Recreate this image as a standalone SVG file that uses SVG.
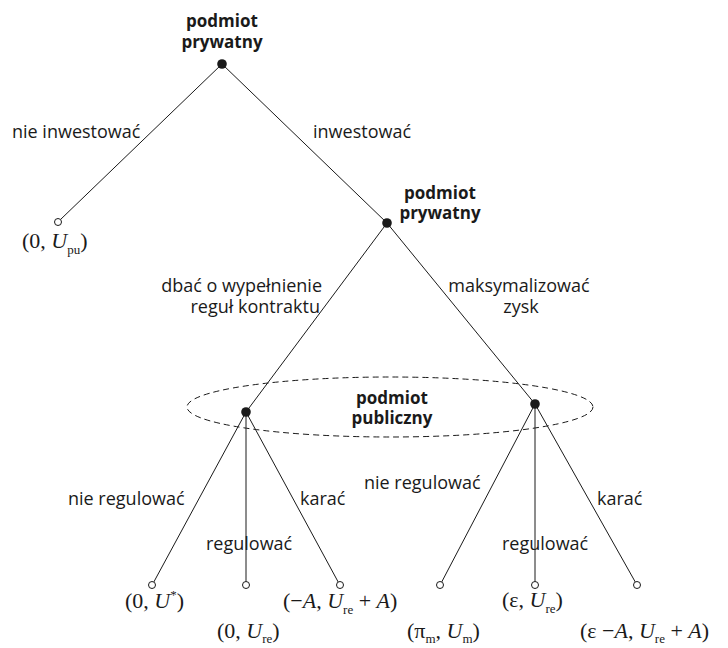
<svg xmlns="http://www.w3.org/2000/svg" width="728" height="648" viewBox="0 0 728 648">
  <style>
    .edge { stroke: #1a1a1a; stroke-width: 1; fill: none; }
    .info { stroke: #1a1a1a; stroke-width: 1; fill: none; stroke-dasharray: 6 4; }
    .dec { fill: #1a1a1a; }
    .leaf { fill: #fff; stroke: #1a1a1a; stroke-width: 1; }
    .lbl { font-family: "Open Sans", "DejaVu Sans", sans-serif; font-size: 18px; fill: #1a1a1a; }
    .who { font-family: "Open Sans", "DejaVu Sans", sans-serif; font-size: 17px; font-weight: bold; fill: #1a1a1a; text-anchor: middle; }
    .pay { font-family: "Liberation Serif", "Times New Roman", serif; font-size: 22px; fill: #1a1a1a; }
    .it { font-style: italic; }
    .sub { font-size: 13px; }
  </style>

  <!-- branches of the game tree -->
  <g id="connectors">
    <line class="edge" x1="222" y1="64" x2="60.5" y2="219.5"/>
    <line class="edge" x1="222" y1="64" x2="387" y2="223"/>
    <line class="edge" x1="387" y1="223" x2="246" y2="412"/>
    <line class="edge" x1="387" y1="223" x2="535" y2="404"/>
    <line class="edge" x1="246" y1="412" x2="153.8" y2="582"/>
    <line class="edge" x1="246" y1="412" x2="246" y2="581.5"/>
    <line class="edge" x1="246" y1="412" x2="338.2" y2="582"/>
    <line class="edge" x1="535" y1="404" x2="441.7" y2="582"/>
    <line class="edge" x1="535" y1="404" x2="535" y2="581.5"/>
    <line class="edge" x1="535" y1="404" x2="635.3" y2="582"/>
  </g>

  <!-- information set of the public player -->
  <g id="info-set">
    <ellipse class="info" cx="390" cy="407" rx="203" ry="30"/>
    <text class="who" x="392" y="404">podmiot</text>
    <text class="who" x="392" y="424">publiczny</text>
  </g>

  <g id="root">
    <circle class="dec" cx="222" cy="64" r="4.8"/>
    <text class="who" x="222" y="27">podmiot</text>
    <text class="who" x="222" y="48">prywatny</text>
  </g>

  <g id="private-2">
    <circle class="dec" cx="387" cy="223" r="4.8"/>
    <text class="who" x="440" y="199">podmiot</text>
    <text class="who" x="440" y="219">prywatny</text>
  </g>

  <g id="public-left">
    <circle class="dec" cx="246" cy="412" r="4.8"/>
  </g>

  <g id="public-right">
    <circle class="dec" cx="535" cy="404" r="4.8"/>
  </g>

  <!-- move labels -->
  <g id="moves">
    <text class="lbl" x="12" y="138">nie inwestować</text>
    <text class="lbl" x="313" y="138">inwestować</text>
    <text class="lbl" x="322" y="292" text-anchor="end">dbać o wypełnienie</text>
    <text class="lbl" x="320" y="313" text-anchor="end">reguł kontraktu</text>
    <text class="lbl" x="519" y="292" text-anchor="middle">maksymalizować</text>
    <text class="lbl" x="521" y="313" text-anchor="middle">zysk</text>
    <text class="lbl" x="68" y="505">nie regulować</text>
    <text class="lbl" x="206" y="550">regulować</text>
    <text class="lbl" x="300" y="505">karać</text>
    <text class="lbl" x="364" y="489">nie regulować</text>
    <text class="lbl" x="502" y="550">regulować</text>
    <text class="lbl" x="597" y="505">karać</text>
  </g>

  <!-- terminal nodes and payoffs -->
  <g id="leaf-1">
    <circle class="leaf" cx="58" cy="222" r="3.5"/>
    <text class="pay" x="22" y="248">(0, <tspan class="it">U</tspan><tspan class="sub" dy="6">pu</tspan><tspan dy="-6">)</tspan></text>
  </g>
  <g id="leaf-2">
    <circle class="leaf" cx="152" cy="585" r="3.5"/>
    <text class="pay" x="125" y="608">(0, <tspan class="it">U</tspan><tspan class="sub" dy="-9">*</tspan><tspan dy="9">)</tspan></text>
  </g>
  <g id="leaf-3">
    <circle class="leaf" cx="246" cy="585" r="3.5"/>
    <text class="pay" x="217" y="638">(0, <tspan class="it">U</tspan><tspan class="sub" dy="5">re</tspan><tspan dy="-5">)</tspan></text>
  </g>
  <g id="leaf-4">
    <circle class="leaf" cx="340" cy="585" r="3.5"/>
    <text class="pay" x="283" y="608">(−<tspan class="it">A</tspan>, <tspan class="it">U</tspan><tspan class="sub" dy="6">re</tspan><tspan dy="-6"> + </tspan><tspan class="it">A</tspan>)</text>
  </g>
  <g id="leaf-5">
    <circle class="leaf" cx="440" cy="585" r="3.5"/>
    <text class="pay" x="407" y="638">(π<tspan class="sub" dy="5">m</tspan><tspan dy="-5">, </tspan><tspan class="it">U</tspan><tspan class="sub" dy="5">m</tspan><tspan dy="-5">)</tspan></text>
  </g>
  <g id="leaf-6">
    <circle class="leaf" cx="535" cy="585" r="3.5"/>
    <text class="pay" x="502" y="607">(ε, <tspan class="it">U</tspan><tspan class="sub" dy="6">re</tspan><tspan dy="-6">)</tspan></text>
  </g>
  <g id="leaf-7">
    <circle class="leaf" cx="637" cy="585" r="3.5"/>
    <text class="pay" x="580" y="638">(ε −<tspan class="it">A</tspan>, <tspan class="it">U</tspan><tspan class="sub" dy="5">re</tspan><tspan dy="-5"> + </tspan><tspan class="it">A</tspan>)</text>
  </g>
</svg>
